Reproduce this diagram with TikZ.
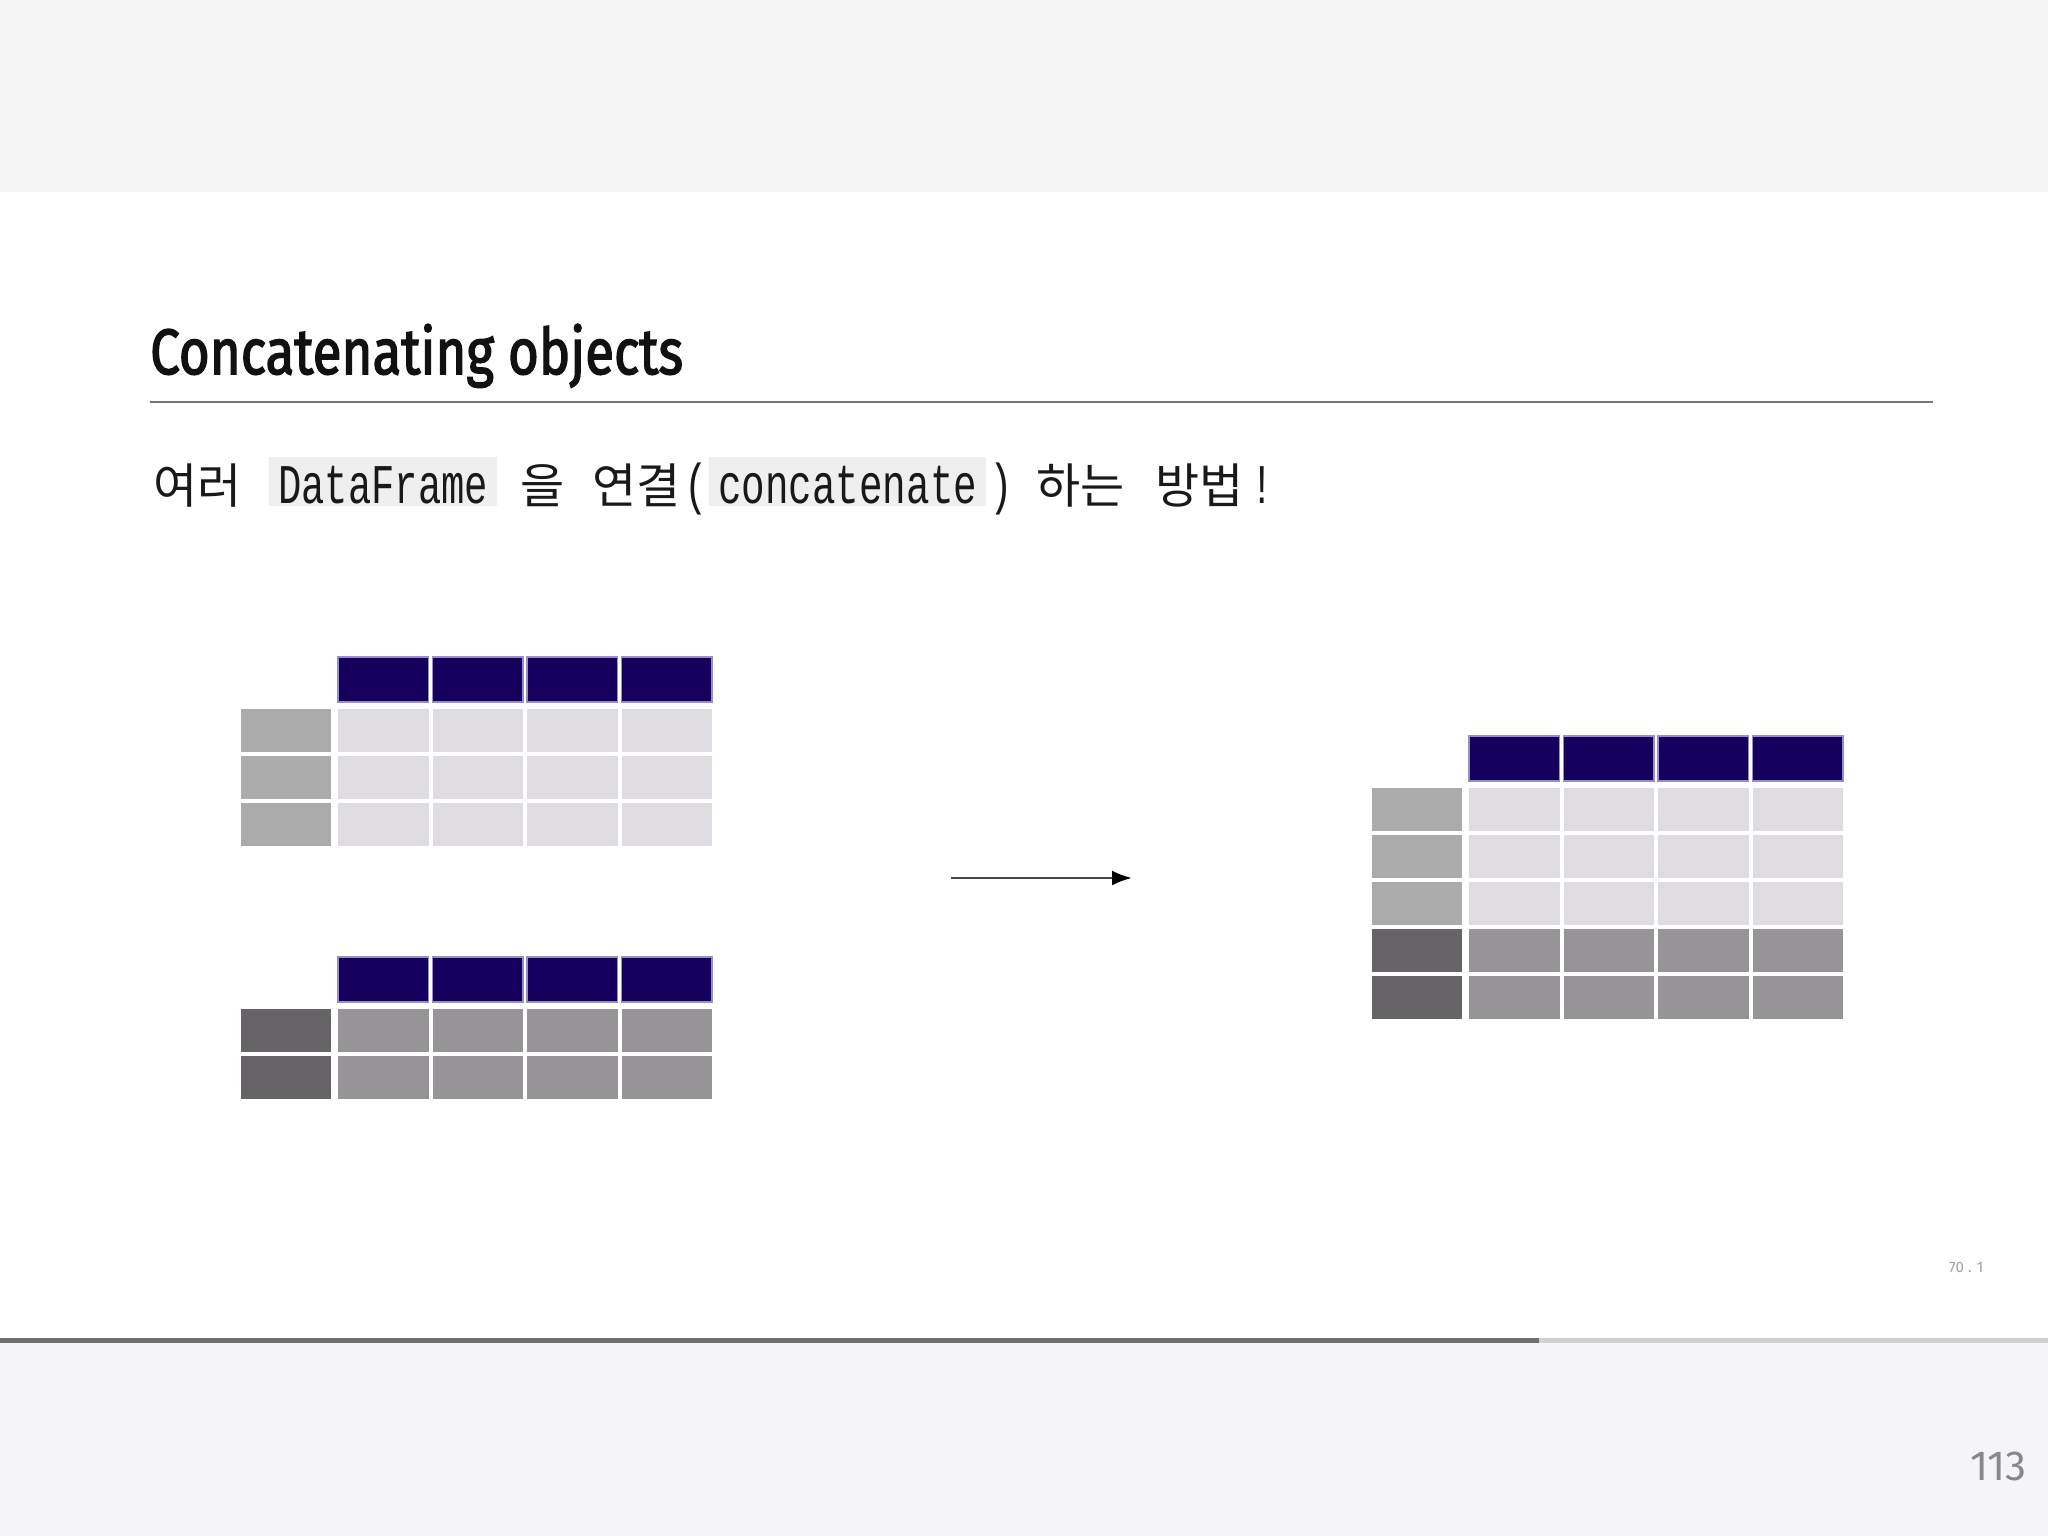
\documentclass[tikz,border=0pt]{standalone}
\usepackage{fontspec}
\usepackage{graphicx}
\usetikzlibrary{arrows.meta}
\setmainfont{Fira Sans}
\newfontfamily\titlefont[FakeBold=2.5]{Fira Sans}
\newfontfamily\krfont{Noto Sans CJK KR}
\newfontfamily\codefont[FakeStretch=0.70]{Liberation Mono}
\newfontfamily\numfont{Fira Sans}
\definecolor{topband}{RGB}{245,245,246}
\definecolor{botband}{RGB}{245,244,247}
\definecolor{progdark}{RGB}{111,110,112}
\definecolor{proglight}{RGB}{208,207,210}
\definecolor{rulecol}{RGB}{118,118,118}
\definecolor{titlecol}{RGB}{17,17,17}
\definecolor{textcol}{RGB}{25,25,25}
\definecolor{codebg}{RGB}{239,239,239}
\definecolor{hdr}{RGB}{21,0,94}
\definecolor{hdredge}{RGB}{150,142,200}
\definecolor{idxlight}{RGB}{172,171,172}
\definecolor{datlight}{RGB}{222,220,224}
\definecolor{idxdark}{RGB}{102,100,103}
\definecolor{datdark}{RGB}{150,148,151}
\definecolor{arrowcol}{RGB}{70,70,70}
\definecolor{pagecol}{RGB}{136,136,138}
\definecolor{smallcol}{RGB}{160,160,160}
\newsavebox\fitbox
\newlength\fitw
\newcommand\fitto[2]{\sbox\fitbox{#2}\setlength\fitw{\wd\fitbox}\pgfmathsetmacro\fitr{#1/\fitw}\scalebox{\fitr}[1]{\usebox\fitbox}}
\def\lightkind{l}
\tikzset{
  krtext/.style={anchor=base west, inner sep=0pt, text=textcol, font={\krfont\fontsize{48}{52}\selectfont}},
  codetext/.style={anchor=base west, inner sep=0pt, text=textcol, font={\codefont\fontsize{56}{60}\selectfont}},
  codebox/.style={anchor=base west, inner xsep=9pt, inner ysep=0pt, fill=codebg, text=textcol, text height=46pt, text depth=3pt, font={\codefont\fontsize{56}{60}\selectfont}},
  hdrcell/.style={fill=hdr, draw=hdredge, line width=1.2pt},
  connector/.style={line width=2.5pt, draw=arrowcol, -{Latex[length=20pt,width=15pt,color=black]}}
}
% #1 ox, #2 oy, #3 list of row kinds (l = light, d = dark)
\newcommand\dftable[3]{%
  \foreach \c in {0,1,2,3}{%
    \path[hdrcell] ({#1+\c*94.5},{#2}) rectangle ({#1+\c*94.5+90.5},{#2+45});
  }%
  \foreach \k [count=\r from 0] in {#3}{%
    \ifx\k\lightkind\def\ic{idxlight}\def\dc{datlight}\else\def\ic{idxdark}\def\dc{datdark}\fi
    \fill[\ic] ({#1-97},{#2+52+\r*47}) rectangle ({#1-7},{#2+52+\r*47+43});
    \foreach \c in {0,1,2,3}{%
      \fill[\dc] ({#1+\c*94.5},{#2+52+\r*47}) rectangle ({#1+\c*94.5+90.5},{#2+52+\r*47+43});
    }%
  }%
}
\begin{document}
\begin{tikzpicture}[x=1pt,y=-1pt]
\useasboundingbox (0,0) rectangle (2048,1536);
\fill[white] (0,0) rectangle (2048,1536);
\fill[topband] (0,0) rectangle (2048,192);
\fill[botband] (0,1342) rectangle (2048,1536);
\fill[progdark] (0,1338) rectangle (1539,1343);
\fill[proglight] (1539,1338) rectangle (2048,1343);

\node[anchor=base west, inner sep=0pt, text=titlecol] (title) at (150,374)
  {\fitto{533pt}{\titlefont\fontsize{64}{70}\selectfont Concatenating objects}};
\draw[rulecol, line width=2.5pt] (150,402) -- (1933,402);

\node[krtext] (w1) at (153,503) {여러};
\node[codebox] (c1) at (269,503) {\fitto{210pt}{DataFrame}};
\node[krtext] (w2) at (520,503) {을};
\node[krtext] (w3) at (592,503) {연결};
\node[codetext] (p1) at (684,503) {(};
\node[codebox] (c2) at (709,503) {\fitto{259pt}{concatenate}};
\node[codetext] (p2) at (989,503) {)};
\node[krtext] (w4) at (1036,503) {하는};
\node[krtext] (w5) at (1155,503) {방법};
\node[codetext] (ex) at (1250,503) {!};

\dftable{338}{657}{l,l,l}
\dftable{338}{957}{d,d}
\dftable{1469}{736}{l,l,l,d,d}

\coordinate (a1) at (951,878);
\coordinate (a2) at (1132,878);
\draw[connector] (a1) -- (a2);

\node[anchor=base west, inner sep=0pt, text=smallcol, font={\numfont\fontsize{15}{17}\selectfont}] (slide) at (1949,1272) {70 . 1};
\node[anchor=base east, inner sep=0pt, text=pagecol, font={\numfont\fontsize{42}{46}\selectfont}] (page) at (2027,1480) {113};
\end{tikzpicture}
\end{document}
